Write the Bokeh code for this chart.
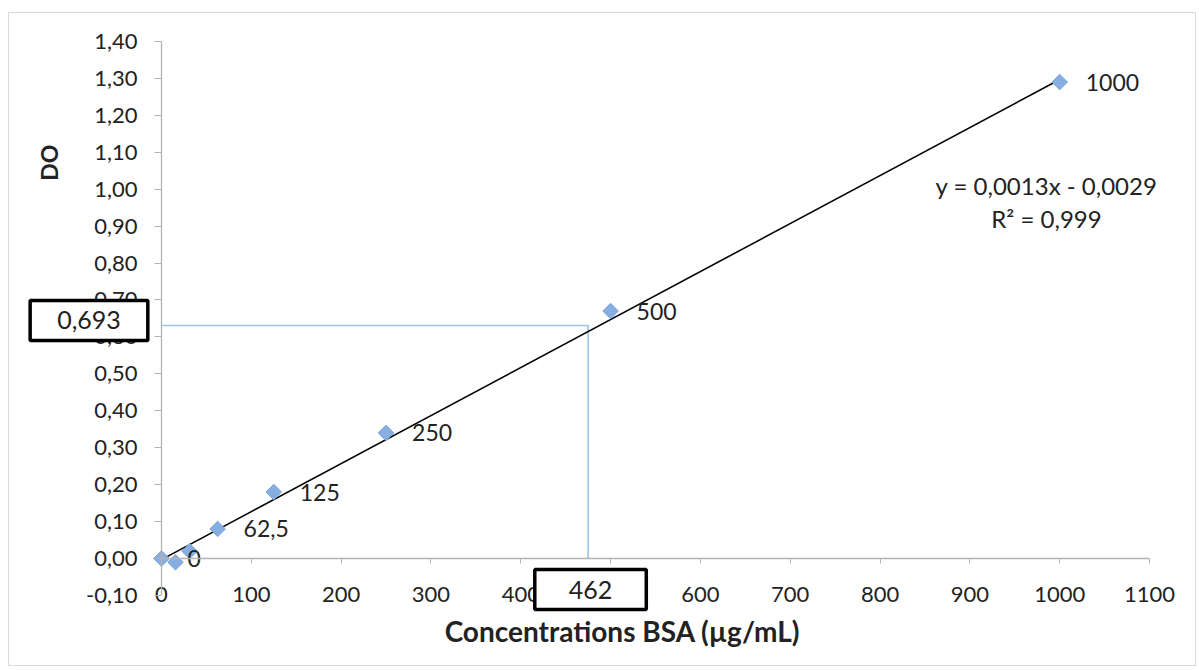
import math
from bokeh.plotting import figure
from bokeh.models import FixedTicker, CustomJSTickFormatter, Label, Range1d, ColumnDataSource
from bokeh.core.properties import value
from bokeh.embed import file_html
from bokeh.resources import INLINE

# ---- data ----
conc = [0, 15.6, 31.25, 62.5, 125, 250, 500, 1000]
do_vals = [0.00, -0.01, 0.02, 0.08, 0.18, 0.34, 0.67, 1.29]
point_labels = ["0", "", "", "62,5", "125", "250", "500", "1000"]

trend_x = [0, 1000]
trend_y = [-0.003, 1.297]

guide_x = 475       # vertical read-off line (drawn)
guide_y = 0.631     # horizontal read-off line (drawn)
read_x_text = "462"
read_y_text = "0,693"

equation_text = "y = 0,0013x - 0,0029"
r2_text = "R\u00b2 = 0,999"

x_ticks = [0, 100, 200, 300, 400, 500, 600, 700, 800, 900, 1000, 1100]
y_ticks = [-0.10, 0.00, 0.10, 0.20, 0.30, 0.40, 0.50, 0.60, 0.70, 0.80, 0.90, 1.00, 1.10, 1.20, 1.30, 1.40]

FONT = "Lato"
TXT = "#222222"

# the frame fills the whole chart area; axes sit at x=0 / y=0 with bounds
p = figure(width=1188, height=654, output_backend="svg", toolbar_location=None,
           x_range=Range1d(-169.2, 1153.4), y_range=Range1d(-0.2951, 1.4757),
           min_border=0,
           styles={"border": "1px solid #d9d9d9", "margin-left": "8px", "margin-top": "12px"})
p.outline_line_color = None
p.grid.visible = False
p.background_fill_color = "white"
p.border_fill_color = "white"

# axes
p.xaxis.fixed_location = 0
p.yaxis.fixed_location = 0
p.xaxis.bounds = (0, 1100)
p.yaxis.bounds = (-0.10, 1.40)
p.xaxis.ticker = FixedTicker(ticks=x_ticks)
p.yaxis.ticker = FixedTicker(ticks=y_ticks)
p.yaxis.formatter = CustomJSTickFormatter(code="return tick.toFixed(2).replace('.', ',');")
for ax in (p.xaxis, p.yaxis):
    ax.axis_line_color = "#B3B3B3"
    ax.axis_line_width = 1.3
    ax.major_tick_line_color = "#B3B3B3"
    ax.minor_tick_line_color = None
    ax.major_tick_in = 0
    ax.major_label_text_font = FONT
    ax.major_label_text_font_size = "22px"
    ax.major_label_text_color = TXT
p.xaxis.major_tick_out = 5
p.xaxis.major_label_standoff = 23
p.yaxis.major_tick_out = 7
p.yaxis.major_label_standoff = 17

# read-off guide lines
p.line([0, guide_x, guide_x], [guide_y, guide_y, 0], line_color="#9DC3E6", line_width=1.6)

# trendline
p.line(trend_x, trend_y, line_color="black", line_width=1.6)

# points
src = ColumnDataSource(dict(x=conc, y=do_vals, lab=point_labels))
p.scatter("x", "y", source=src, marker="square", angle=math.pi / 4, size=11,
          fill_color="#86AEE0", line_color="#7BA2D8", line_width=1)
p.text("x", "y", text="lab", source=src, x_offset=26, text_align="left", text_baseline="middle",
       text_font=value(FONT), text_font_size="23px", text_color=TXT)

# equation
p.add_layout(Label(x=985.3, y=1.010, text=equation_text, text_align="center", text_baseline="middle",
                   text_font=FONT, text_font_size="24px", text_color=TXT))
p.add_layout(Label(x=985.3, y=0.921, text=r2_text, text_align="center", text_baseline="middle",
                   text_font=FONT, text_font_size="24px", text_color=TXT))

# axis titles
p.add_layout(Label(x=-124.7, y=1.072, text="DO", angle=math.pi / 2,
                   text_align="center", text_baseline="middle",
                   text_font=FONT, text_font_size="23px", text_font_style="bold", text_color=TXT))
p.add_layout(Label(x=513.3, y=-0.195, text="Concentrations BSA (\u00b5g/mL)",
                   text_align="center", text_baseline="middle",
                   text_font=FONT, text_font_size="28px", text_font_style="bold", text_color=TXT))

# boxed read-off values
p.add_layout(Label(x=0, x_offset=-72.5, y=guide_y, y_offset=5, text=read_y_text,
                   text_align="center", text_baseline="middle",
                   text_font=FONT, text_font_size="25px", text_color=TXT,
                   background_fill_color="white", border_line_color="black", border_line_width=3.5,
                   padding=(27, 27, 11, 11)))
p.add_layout(Label(x=guide_x, x_offset=2.4, y=0, y_offset=-31, text=read_x_text,
                   text_align="center", text_baseline="middle",
                   text_font=FONT, text_font_size="25px", text_color=TXT,
                   background_fill_color="white", border_line_color="black", border_line_width=3.5,
                   padding=(34, 34, 11, 11)))

open("out.html", "w").write(file_html(p, INLINE))
